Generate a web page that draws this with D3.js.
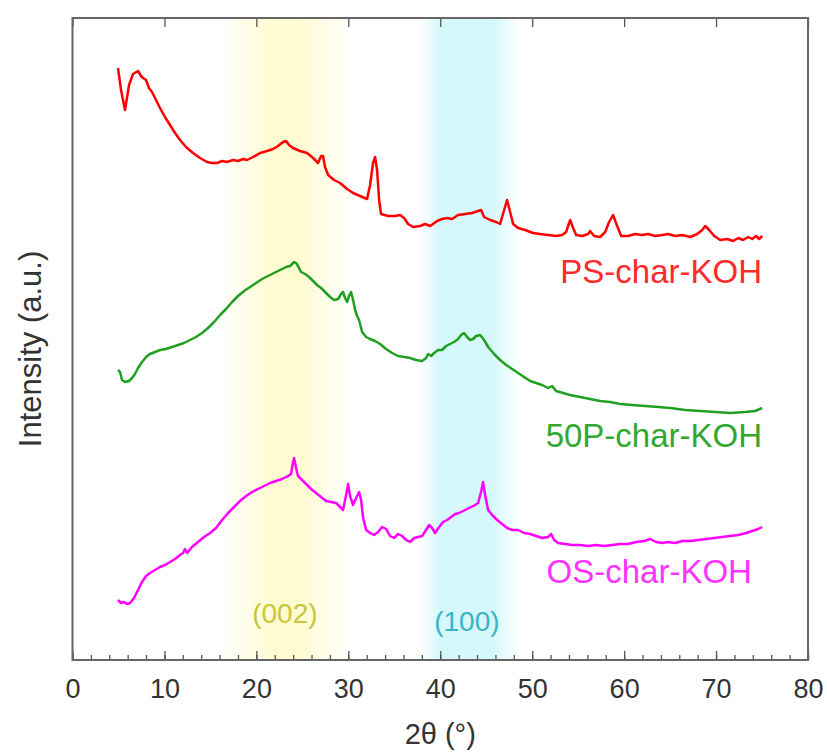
<!DOCTYPE html>
<html>
<head>
<meta charset="utf-8">
<script src="https://cdn.jsdelivr.net/npm/d3@7"></script>
<style>
  body { margin: 0; background: #fff; }
  text { font-family: "Liberation Sans", Arial, sans-serif; }
</style>
</head>
<body>
<svg width="827" height="754"></svg>
<script>
// XRD patterns, [2theta (deg), intensity (a.u., offset stacked)]
const psChar = [
  [4.95,592],[5.28,570],[5.71,550],[6.15,575],[6.58,586],[7.13,589],[7.45,584],[7.67,582],[8.0,580],[8.32,572],
  [8.65,568],[9.08,560],[9.52,552],[10.06,543],[10.61,535],[11.15,527],[11.7,520],[12.35,513],[13.11,507],[13.87,502],
  [14.63,498],[15.18,497],[15.72,497],[16.27,499],[16.81,498],[17.46,500],[18.01,499],[18.55,501],[18.99,500],[19.64,503],
  [20.4,507],[21.16,509],[21.81,511],[22.36,514],[22.9,518],[23.23,519],[23.56,515],[23.99,512],[24.75,509],[25.51,507],
  [26.17,502],[26.71,497],[27.04,504],[27.25,504],[27.47,493],[27.8,485],[28.45,480],[29.1,477],[29.87,471],[30.52,467],
  [31.28,464],[32.04,461],[32.37,475],[32.69,497],[32.91,503],[33.13,490],[33.35,460],[33.56,446],[34.33,444],[35.09,444],
  [35.63,445],[36.07,442],[36.5,436],[37.05,433],[37.81,434],[38.35,436],[38.9,434],[39.66,439],[40.2,441],[40.75,442],
  [41.29,441],[41.94,445],[42.7,446],[43.47,447],[44.12,449],[44.44,450],[44.77,443],[45.42,440],[46.08,438],[46.51,436],
  [46.95,450],[47.27,460],[47.6,448],[47.93,436],[48.47,432],[49.23,430],[50.1,427],[50.86,426],[51.73,425],[52.6,424],
  [53.26,425],[53.69,428],[54.13,440],[54.45,432],[54.78,425],[55.43,424],[56.09,426],[56.3,429],[56.74,424],[57.39,423],
  [57.94,428],[58.37,438],[58.8,445],[59.24,434],[59.68,424],[60.44,424],[61.2,426],[61.96,425],[62.61,426],[63.37,424],
  [64.14,425],[64.79,426],[65.55,424],[66.31,425],[67.18,423],[67.95,426],[68.49,430],[68.82,434],[69.25,430],[69.8,424],
  [70.45,420],[71.21,421],[71.86,419],[72.41,422],[72.95,420],[73.49,423],[73.93,421],[74.36,424],[74.69,421],[75.02,424]
];

const p50Char = [
  [4.95,290],[5.17,288],[5.39,280],[5.71,278],[6.15,279],[6.47,282],[6.8,286],[7.13,292],[7.56,298],[8.0,303],
  [8.43,306],[8.98,308],[9.52,310],[10.17,311],[10.83,313],[11.48,315],[12.13,317],[12.78,320],[13.44,323],[14.09,327],
  [14.74,332],[15.4,338],[16.05,345],[16.7,351],[17.36,358],[18.01,364],[18.66,369],[19.32,373],[19.97,377],[20.62,381],
  [21.27,384],[21.92,387],[22.58,390],[23.23,393],[23.67,394],[24.1,398],[24.32,397],[24.53,394],[24.86,388],[25.3,386],
  [25.73,383],[26.17,379],[26.6,375],[27.04,372],[27.58,367],[28.02,363],[28.45,360],[28.89,361],[29.21,366],[29.43,368],
  [29.65,362],[29.87,358],[30.08,364],[30.3,368],[30.52,360],[30.74,350],[30.96,344],[31.17,340],[31.5,328],[31.94,323],
  [32.37,321],[32.91,319],[33.46,316],[34.11,311],[34.76,307],[35.41,304],[36.07,303],[36.72,302],[37.37,300],[38.03,299],
  [38.46,302],[38.68,306],[39.01,304],[39.33,307],[39.77,310],[40.2,310],[40.64,314],[41.07,316],[41.51,318],[41.94,321],
  [42.27,325],[42.59,327],[42.92,323],[43.25,320],[43.58,321],[43.9,324],[44.34,325],[44.77,320],[45.21,313],[45.86,306],
  [46.51,300],[47.17,295],[47.82,291],[48.47,287],[49.12,283],[49.78,279],[50.43,277],[51.08,275],[51.73,272],[52.17,274],
  [52.6,269],[53.37,267],[54.13,265],[55.22,263],[56.3,261],[57.39,259],[58.48,258],[59.57,256],[60.87,255],[62.29,254],
  [63.7,253],[65.02,252],[66.65,250],[68.28,249],[69.91,248],[71.54,247],[73.17,248],[74.26,249],[75.02,252]
];

const osChar = [
  [4.95,60],[5.28,57],[5.6,58],[5.93,56],[6.26,57],[6.69,62],[7.13,70],[7.56,78],[8.0,84],[8.43,87],
  [8.98,90],[9.52,93],[10.06,95],[10.61,98],[11.15,101],[11.7,105],[12.02,107],[12.24,111],[12.46,107],[13.0,113],
  [13.65,118],[14.31,123],[14.96,127],[15.61,132],[16.27,140],[16.92,147],[17.57,153],[18.22,159],[18.88,164],[19.53,168],
  [20.18,171],[20.84,174],[21.49,177],[22.14,179],[22.79,181],[23.45,184],[23.77,186],[23.99,198],[24.1,202],[24.32,192],
  [24.53,184],[24.97,180],[25.41,176],[25.95,171],[26.49,167],[27.04,163],[27.58,159],[28.13,158],[28.67,157],[29.1,153],
  [29.43,150],[29.76,165],[29.98,176],[30.19,164],[30.52,155],[30.85,162],[31.17,168],[31.39,160],[31.61,142],[31.94,130],
  [32.37,127],[32.8,125],[33.24,128],[33.67,133],[34.11,131],[34.54,124],[34.98,122],[35.41,126],[35.85,124],[36.29,120],
  [36.72,118],[37.16,122],[37.59,123],[38.03,124],[38.46,130],[38.79,135],[39.11,132],[39.44,127],[39.88,133],[40.31,138],
  [40.75,140],[41.18,143],[41.62,146],[42.05,147],[42.49,149],[42.92,151],[43.36,153],[43.79,155],[44.12,157],[44.44,168],
  [44.66,178],[44.88,165],[45.21,150],[45.64,145],[46.19,140],[46.73,136],[47.27,132],[47.82,130],[48.47,130],[49.12,127],
  [49.78,126],[50.43,124],[51.08,122],[51.73,123],[52.06,126],[52.39,120],[52.82,117],[53.58,116],[54.35,115],[55.22,115],
  [56.09,114],[56.96,115],[57.83,114],[58.7,115],[59.57,116],[60.44,116],[61.31,118],[62.18,119],[62.83,121],[63.48,118],
  [64.14,117],[64.79,118],[65.55,117],[66.31,119],[67.18,119],[68.05,120],[68.92,121],[69.8,122],[70.67,123],[71.54,124],
  [72.41,125],[73.28,127],[73.93,129],[74.58,131],[75.02,133]
];

const seriesNames = ['PS-char-KOH', '50P-char-KOH', 'OS-char-KOH'];
// label anchor: [2theta of right end, intensity of baseline]
const labelAnchors = [[75, 377], [75, 213], [73.9, 77]];

const planeNames = ['(002)', '(100)'];
const planeLabelPos = [[23.1, 37], [42.9, 29]];
// shaded ranges [start, full-from, full-to, end] in 2theta
const planeBands = [[16, 22, 24.5, 30.5], [37.8, 40, 45.5, 48.8]];

const xTicks = d3.range(0, 81, 10);
const xMinorTicks = d3.range(0, 81, 2);

const seriesColors = ['#ff0000', '#20a020', '#ff00ff'];
const labelColors = ['#ff2a2a', '#30a830', '#ff33ff'];
const bandColors = ['#fffbd0', '#d4f8fb'];
const planeColors = ['#c9c63a', '#3ab3c6'];

const svg = d3.select('svg');
const width = +svg.attr('width');
const height = +svg.attr('height');
const margin = {top: 18, right: 19, bottom: 94, left: 72.5};

const x = d3.scaleLinear().domain([0, 80]).range([margin.left, width - margin.right]);
const y = d3.scaleLinear().domain([0, 642]).range([height - margin.bottom, margin.top]);

const defs = svg.append('defs');

// background bands for (002) and (100)
planeBands.forEach((b, i) => {
  const grad = defs.append('linearGradient')
    .attr('id', 'band' + i)
    .attr('x1', 0).attr('x2', 1).attr('y1', 0).attr('y2', 0);
  const span = b[3] - b[0];
  grad.append('stop').attr('offset', 0).attr('stop-color', bandColors[i]).attr('stop-opacity', 0);
  grad.append('stop').attr('offset', (b[1] - b[0]) / span).attr('stop-color', bandColors[i]).attr('stop-opacity', 1);
  grad.append('stop').attr('offset', (b[2] - b[0]) / span).attr('stop-color', bandColors[i]).attr('stop-opacity', 1);
  grad.append('stop').attr('offset', 1).attr('stop-color', bandColors[i]).attr('stop-opacity', 0);

  svg.append('rect')
    .attr('x', x(b[0]))
    .attr('width', x(b[3]) - x(b[0]))
    .attr('y', y(642))
    .attr('height', y(0) - y(642))
    .attr('fill', `url(#band${i})`);
});

// curves
const line = d3.line()
  .x(d => x(d[0]))
  .y(d => y(d[1]));

[psChar, p50Char, osChar].forEach((s, i) => {
  svg.append('path')
    .datum(s)
    .attr('d', line)
    .attr('fill', 'none')
    .attr('stroke', seriesColors[i])
    .attr('stroke-width', 2.5)
    .attr('stroke-linejoin', 'round');

  svg.append('text')
    .attr('x', x(labelAnchors[i][0]))
    .attr('y', y(labelAnchors[i][1]))
    .attr('text-anchor', 'end')
    .attr('font-size', 33)
    .attr('fill', labelColors[i])
    .text(seriesNames[i]);
});

planeNames.forEach((p, i) => {
  svg.append('text')
    .attr('x', x(planeLabelPos[i][0]))
    .attr('y', y(planeLabelPos[i][1]))
    .attr('text-anchor', 'middle')
    .attr('font-size', 28)
    .attr('fill', planeColors[i])
    .text(p);
});

// axes: inward ticks top and bottom
const axisColor = '#555';
const bottomG = svg.append('g').attr('transform', `translate(0,${y(0)})`);
bottomG.call(d3.axisBottom(x).tickValues(xMinorTicks).tickSizeInner(-5).tickSizeOuter(0).tickFormat(''));
bottomG.call(g => g.select('.domain').remove());
const bottomMajor = svg.append('g').attr('transform', `translate(0,${y(0)})`)
  .call(d3.axisBottom(x).tickValues(xTicks).tickSizeInner(-9).tickSizeOuter(0).tickPadding(19));
bottomMajor.select('.domain').remove();
bottomMajor.selectAll('text')
  .attr('font-size', 27)
  .attr('font-family', '"Liberation Sans", Arial, sans-serif')
  .attr('fill', '#333');

const topG = svg.append('g').attr('transform', `translate(0,${y(642)})`);
topG.call(d3.axisTop(x).tickValues(xMinorTicks).tickSizeInner(-5).tickSizeOuter(0).tickFormat(''));
topG.call(d3.axisTop(x).tickValues(xTicks).tickSizeInner(-9).tickSizeOuter(0).tickFormat(''));
topG.selectAll('.domain').remove();

svg.selectAll('.tick line').attr('stroke', axisColor).attr('stroke-width', 1.3);

// frame
svg.append('rect')
  .attr('x', x(0))
  .attr('y', y(642))
  .attr('width', x(80) - x(0))
  .attr('height', y(0) - y(642))
  .attr('fill', 'none')
  .attr('stroke', '#666')
  .attr('stroke-width', 2);

// axis titles
svg.append('text')
  .attr('x', (x(0) + x(80)) / 2)
  .attr('y', 744)
  .attr('text-anchor', 'middle')
  .attr('font-size', 29)
  .attr('fill', '#333')
  .text('2θ (°)');

svg.append('text')
  .attr('transform', `translate(41,${(y(0) + y(642)) / 2 + 10}) rotate(-90)`)
  .attr('text-anchor', 'middle')
  .attr('font-size', 31)
  .attr('fill', '#333')
  .text('Intensity (a.u.)');
</script>
</body>
</html>
